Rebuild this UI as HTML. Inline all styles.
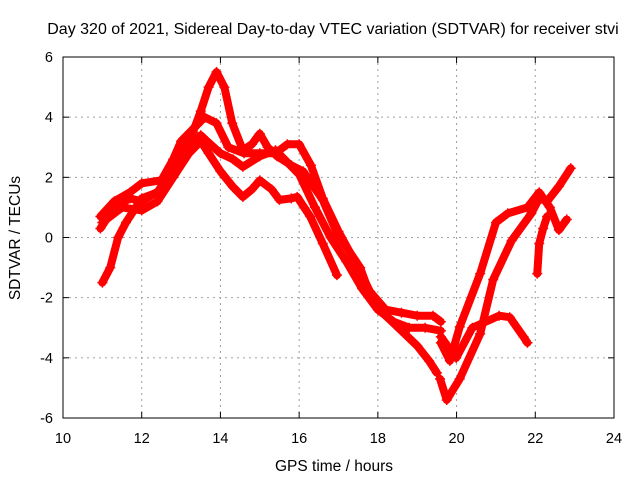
<!DOCTYPE html>
<html><head><meta charset="utf-8"><style>
body{margin:0;background:#fff}
svg{display:block;font-family:"Liberation Sans",sans-serif}
</style></head><body>
<svg id="chart" width="640" height="480">
<rect width="640" height="480" fill="#fff"/>
<g id="grid"></g>
<g id="series"></g>
<rect x="63" y="57" width="551" height="361" fill="none" stroke="#000" stroke-width="1"/>
<g id="axes"></g>
<text x="333" y="34" font-size="16" text-anchor="middle">Day 320 of 2021, Sidereal Day-to-day VTEC variation (SDTVAR) for receiver stvi</text>
<text x="334" y="471" font-size="15.5" text-anchor="middle">GPS time / hours</text>
<text x="20" y="238" font-size="15.5" text-anchor="middle" transform="rotate(-90 20 238)">SDTVAR / TECUs</text>
</svg>
<script>
const xTicks=[10,12,14,16,18,20,22,24];
const yTicks=[-6,-4,-2,0,2,4,6];
const t1x=[11.0,11.2,11.4,11.6,12.0,12.4,12.8,13.0,13.3,13.5,13.7,13.9,14.1,14.3,14.57,14.8,15.0,15.2,15.44,15.8,16.1,16.6,16.96,17.55,17.8,18.2,18.6,19.0,19.3,19.5];
const t1y=[-1.5,-1.0,0.0,0.5,1.3,1.5,2.3,2.8,3.5,4.2,5.0,5.5,5.0,3.8,2.9,3.1,3.45,3.0,2.7,2.4,2.2,1.25,0.15,-1.0,-1.9,-2.6,-3.1,-3.6,-4.1,-4.5];
const t2x=[10.95,11.3,11.7,12.0,12.5,12.8,13.0,13.3,13.6,13.9,14.2,14.6,15.0,15.4,15.7,16.0,16.3,16.6,17.0,17.5,17.8,18.2,18.6,19.0,19.4,19.6];
const t2y=[0.7,1.2,1.5,1.8,1.9,2.6,3.2,3.6,4.0,3.8,3.0,2.8,2.8,2.8,3.1,3.1,2.4,1.3,0.2,-1.0,-1.8,-2.4,-2.5,-2.6,-2.6,-2.8];
const t3x=[11.0,11.5,12.0,12.4,12.8,13.2,13.5,13.7,14.0,14.32,14.57,14.8,15.0,15.3,15.5,15.8,15.95,16.28,16.6,16.96];
const t3y=[0.5,1.0,0.9,1.2,2.0,2.8,3.2,2.8,2.2,1.68,1.35,1.6,1.9,1.6,1.25,1.3,1.35,0.7,-0.2,-1.25];
const t4x=[10.95,11.3,11.7,12.0,12.5,12.9,13.2,13.5,13.66,14.0,14.32,14.57,15.0,15.4,15.7,16.0,16.4,16.8,17.2,17.6,18.0,18.4,18.8,19.2,19.6];
const t4y=[0.3,1.0,1.3,1.2,1.6,2.6,3.0,3.4,3.2,2.8,2.6,2.35,2.7,2.9,2.5,2.1,1.0,0.0,-0.8,-1.7,-2.4,-2.8,-3.0,-3.0,-3.1];
const e1x=[19.6,19.83,20.08,20.6,21.0,21.3,21.8,22.1,22.37,22.6,22.8];
const e1y=[-3.5,-4.1,-2.97,-1.2,0.5,0.8,1.0,1.5,1.0,0.25,0.6];
const e2x=[19.58,19.75,20.08,20.6,20.93,21.4,21.9,22.1,22.3,22.6,22.9];
const e2y=[-4.7,-5.4,-4.7,-3.2,-1.4,-0.1,0.8,1.3,1.2,1.7,2.3];
const e3x=[19.6,19.99,20.4,21.08,21.35,21.7,21.8];
const e3y=[-3.3,-4.0,-3.0,-2.6,-2.65,-3.3,-3.5];
const e4x=[22.05,22.1,22.2,22.3];
const e4y=[-1.2,-0.2,0.3,0.7];
const seriesX=[t1x,t2x,t3x,t4x,e1x,e2x,e3x,e4x];
const seriesY=[t1y,t2y,t3y,t4y,e1y,e2y,e3y,e4y];
const NS='http://www.w3.org/2000/svg';
const X=h=>63+(h-10)*551/14;
const Y=v=>237.5-v*361/12;
const grid=document.getElementById('grid'),axes=document.getElementById('axes'),ser=document.getElementById('series');
function mk(t,a,p){const e=document.createElementNS(NS,t);for(const k in a)e.setAttribute(k,a[k]);p.appendChild(e);return e;}
xTicks.forEach(t=>{
 if(t>10&&t<24){const l=mk('line',{x1:X(t),x2:X(t),y1:57,y2:418,stroke:'#a0a0a0','stroke-dasharray':'2,4'},grid);
 }
 const k=mk('line',{x1:X(t),x2:X(t),y1:418,y2:412,stroke:'#000'},axes);
 
 const k2=mk('line',{x1:X(t),x2:X(t),y1:57,y2:63,stroke:'#000'},axes);
 
 const tx=mk('text',{x:X(t),y:443,'font-size':14.5,'text-anchor':'middle'},axes);tx.textContent=t;
 
});
yTicks.forEach(t=>{
 if(t>-6&&t<6){const l=mk('line',{x1:63,x2:614,y1:Y(t),y2:Y(t),stroke:'#a0a0a0','stroke-dasharray':'2,4'},grid);
 }
 const k=mk('line',{x1:63,x2:69,y1:Y(t),y2:Y(t),stroke:'#000'},axes);
 
 const k2=mk('line',{x1:608,x2:614,y1:Y(t),y2:Y(t),stroke:'#000'},axes);
 
 const tx=mk('text',{x:53,y:Y(t)+5,'font-size':14.5,'text-anchor':'end'},axes);tx.textContent=t;
 
});
seriesX.forEach((xs,i)=>{
 const ys=seriesY[i];
 const pts=xs.map((x,j)=>X(x)+','+Y(ys[j])).join(' ');
 const pl=mk('polyline',{points:pts,fill:'none',stroke:'#ff0000','stroke-width':8,'stroke-linejoin':'round','stroke-linecap':'round'},ser);
 
 xs.forEach((x,j)=>{
  const cx=X(x),cy=Y(ys[j]);
  const m=mk('path',{d:`M${cx-5},${cy}H${cx+5}M${cx},${cy-5}V${cy+5}`,stroke:'#ff0000','stroke-width':1.5},ser);
  
 });
});
</script>
</body></html>
